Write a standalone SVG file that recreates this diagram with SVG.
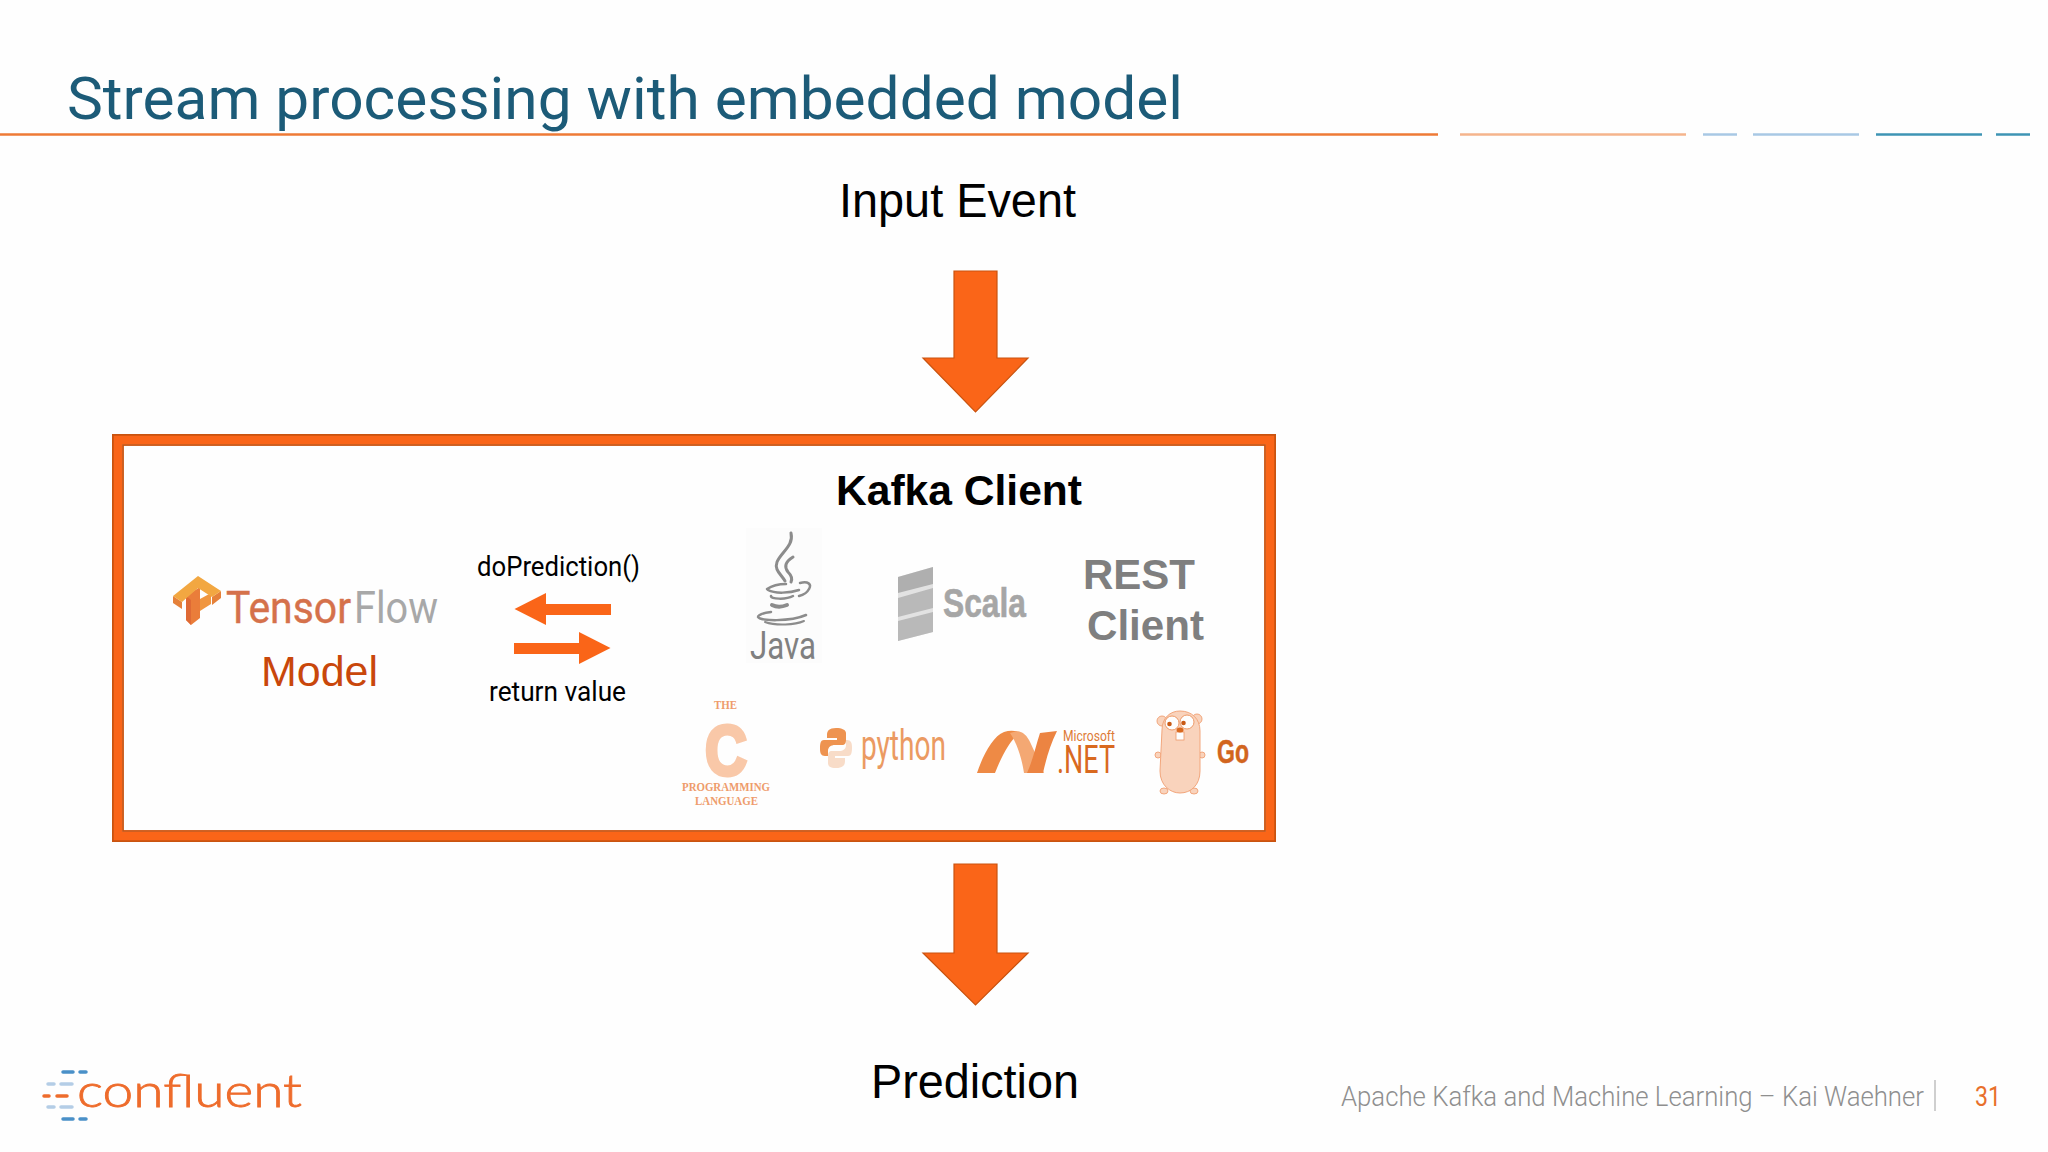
<svg xmlns="http://www.w3.org/2000/svg" width="2048" height="1152" viewBox="0 0 2048 1152">
<style>
.ar{font-family:"Liberation Sans",Arial,sans-serif}
.ro{font-family:Roboto,"Liberation Sans",sans-serif}
.arrow{fill:#FA6518;stroke:#C9530F;stroke-width:1.2}
.small{fill:#FA6518}
.big{font-size:48px;fill:#000}
.gb{font-size:42px;font-weight:700;fill:#7f7f7f}
.cs{font-family:"Liberation Serif",serif;font-weight:700;fill:#EE9C6C}
.dn{stroke-linecap:round;stroke-width:3.5;fill:none}
.jv{fill:none;stroke:#8c8c8c;stroke-linecap:round}
</style>
<rect width="2048" height="1152" fill="#FEFEFE"/>
<g id="header">
<text class="ro" x="67" y="119" font-size="60" fill="#1C5B78" textLength="1116" lengthAdjust="spacingAndGlyphs">Stream processing with embedded model</text>
<g stroke-width="2.5" fill="none">
<line x1="0" y1="134.500" x2="1438" y2="134.500" stroke="#EE7A36"/>
<line x1="1460" y1="134.500" x2="1686" y2="134.500" stroke="#F5B48C"/>
<line x1="1703" y1="134.500" x2="1737" y2="134.500" stroke="#A8C8E4"/>
<line x1="1753" y1="134.500" x2="1859" y2="134.500" stroke="#A8C8E4"/>
<line x1="1876" y1="134.500" x2="1982" y2="134.500" stroke="#3E94B4"/>
<line x1="1996" y1="134.500" x2="2030" y2="134.500" stroke="#3E94B4"/>
</g>
</g>
<g id="input-event"><text class="ar big" x="839" y="217" textLength="237" lengthAdjust="spacingAndGlyphs">Input Event</text></g>
<g id="prediction"><text class="ar big" x="871" y="1098" textLength="208" lengthAdjust="spacingAndGlyphs">Prediction</text></g>
<g id="kafka-box">
<rect x="113" y="435" width="1162" height="406" fill="#FEFEFE" stroke="#C9530F" stroke-width="2"/>
<rect x="118" y="440" width="1152" height="396" fill="none" stroke="#FA6518" stroke-width="8.500"/>
<rect x="123" y="445" width="1142" height="386" fill="none" stroke="#C9530F" stroke-width="1.800"/>
</g>
<g id="connectors">
<polygon class="arrow" points="954,271 997,271 997,358 1028,358 975.500,412 923,358 954,358"/>
<polygon class="arrow" points="954,864 997,864 997,953 1028,953 975.500,1005 923,953 954,953"/>
<polygon class="small" points="611,604 546,604 546,593 514.500,609 546,625 546,615 611,615"/>
<polygon class="small" points="514,643 579,643 579,632 610.500,648 579,664 579,654 514,654"/>
</g>
<g id="tensorflow-model">
<polygon points="186,596 200,587 200,618 191,625 186,620" fill="#EA7D3A"/>
<polygon points="186,596 191,600 191,625 186,620" fill="#DF6A35"/>
<polygon points="200,599 211,593 211,604 200,611" fill="#F0963F"/>
<polygon points="173,603 182,609 182,602 173,596" fill="#E5813A"/>
<polygon points="212,605 221,598 221,591 212,597" fill="#E5813A"/>
<polygon points="173,596 198,576 221,591 212,597 198,588 182,602" fill="#F2A741"/>
<text class="ro" x="226" y="623" font-size="45" font-weight="400" fill="#D5714B" stroke="#D5714B" stroke-width=".4" textLength="125" lengthAdjust="spacingAndGlyphs">Tensor</text>
<text class="ro" x="354" y="623" font-size="45" font-weight="400" fill="#A8A8A8" textLength="84" lengthAdjust="spacingAndGlyphs">Flow</text>
<text class="ar" x="261" y="686" font-size="42" fill="#C9470B" textLength="117" lengthAdjust="spacingAndGlyphs">Model</text>
</g>
<g id="do-prediction"><text class="ro" x="477" y="576" font-size="27" fill="#000" textLength="163" lengthAdjust="spacingAndGlyphs">doPrediction()</text></g>
<g id="return-value"><text class="ro" x="489" y="701" font-size="27" fill="#000" textLength="137" lengthAdjust="spacingAndGlyphs">return value</text></g>
<g id="kafka-client"><text class="ar" x="836" y="505" font-size="43" font-weight="700" fill="#000" textLength="246" lengthAdjust="spacingAndGlyphs">Kafka Client</text></g>
<g id="java">
<rect x="746" y="528" width="76" height="135" fill="#FCFCFC"/>
<path class="jv" stroke-width="3" d="M791 533C794 546 781 552 777 562C774 570 781 574 785 581"/>
<path class="jv" stroke-width="3" d="M793 557C785 562 784 567 788 572C791 575 793 578 791 582"/>
<path class="jv" stroke-width="2.500" d="M767 589C773 585 782 584 786 584M768 590C775 594 790 593 799 590M800 583C808 581 812 584 809 589C807 593 803 595 799 596"/>
<path class="jv" stroke-width="2.500" d="M771 596C770 599 786 600 793 596"/>
<path class="jv" stroke-width="4" d="M772 605C776 607 782 607 787 605"/>
<path class="jv" stroke-width="2.500" d="M771 612C763 613 758 615 758 617C760 621 790 622 806 615"/>
<path class="jv" stroke-width="2" d="M765 622C776 626 795 625 804 621"/>
<text class="ro" x="750" y="659" font-size="39" font-weight="400" fill="#808080" textLength="66" lengthAdjust="spacingAndGlyphs">Java</text>
</g>
<g id="scala">
<polygon points="898,577 933,567 933,632 898,641" fill="#E2E2E2"/>
<polygon points="898,577 933,567 933,584 898,593" fill="#AFAFAF"/>
<polygon points="898,598 933,588 933,608 898,617" fill="#B9B9B9"/>
<polygon points="898,621 933,612 933,632 898,641" fill="#B9B9B9"/>
<text class="ar" x="943" y="617" font-size="40" font-weight="700" fill="#A6A6A6" stroke="#A6A6A6" stroke-width=".6" textLength="83" lengthAdjust="spacingAndGlyphs">Scala</text>
</g>
<g id="rest-client">
<text class="ar gb" x="1083" y="589" textLength="112" lengthAdjust="spacingAndGlyphs">REST</text>
<text class="ar gb" x="1087" y="640" textLength="117" lengthAdjust="spacingAndGlyphs">Client</text>
</g>
<g id="c-lang">
<text class="cs" x="714" y="709" font-size="13" textLength="23" lengthAdjust="spacingAndGlyphs">THE</text>
<text class="ar" x="705" y="775" font-size="71" font-weight="700" fill="#F9C8A8" stroke="#F9C8A8" stroke-width="4" textLength="42" lengthAdjust="spacingAndGlyphs">C</text>
<text class="cs" x="682" y="791" font-size="12.500" textLength="88" lengthAdjust="spacingAndGlyphs">PROGRAMMING</text>
<text class="cs" x="695" y="805" font-size="12.500" textLength="63" lengthAdjust="spacingAndGlyphs">LANGUAGE</text>
</g>
<g id="python">
<path d="M836 728C829 728 827 731 827 735V738H837V740H824C820 740 820 745 820 749C820 753 821 756 825 756H828V751C828 747 831 745 835 745H842C845 745 846 743 846 740V733C846 730 842 728 836 728Z" fill="#EE9350"/>
<path d="M836 768C843 768 845 765 845 761V758H835V756H848C852 756 852 751 852 747C852 743 851 740 847 740H846V745C846 749 843 751 839 751H832C829 751 828 753 828 756V763C828 766 830 768 836 768Z" fill="#F8DCC8"/>
<text class="ro" x="861" y="760" font-size="42" font-weight="400" fill="#EB9A62" textLength="85" lengthAdjust="spacingAndGlyphs">python</text>
</g>
<g id="dotnet">
<path d="M977 773C983 755 993 736 1004 732C1010 730 1016 731 1021 732C1011 738 1002 755 995 773Z" fill="#EE8A45"/>
<path d="M1010 733C1018 730 1024 731 1029 740C1033 748 1040 763 1044 773H1024C1022 760 1018 745 1010 733Z" fill="#F4A873"/>
<path d="M1027 773C1033 760 1036 745 1040 733L1057 731C1050 745 1046 760 1043 773Z" fill="#EC8442"/>
<text class="ro" x="1063" y="741" font-size="14" font-weight="400" fill="#DD7A36" textLength="52" lengthAdjust="spacingAndGlyphs">Microsoft</text>
<text class="ro" x="1057" y="773" font-size="38" fill="#D9691F" textLength="58" lengthAdjust="spacingAndGlyphs">.NET</text>
</g>
<g id="go">
<g fill="#F9D3BC" stroke="#F2A67C" stroke-width="1">
<circle cx="1162" cy="721" r="5"/><circle cx="1197" cy="719" r="5"/>
<ellipse cx="1158" cy="755" rx="3" ry="3"/><ellipse cx="1202" cy="755" rx="3" ry="3"/>
<ellipse cx="1164" cy="791" rx="4" ry="3"/><ellipse cx="1194" cy="791" rx="4" ry="3"/>
<path d="M1162 730C1162 718 1170 711 1180 711C1192 711 1200 719 1200 731V771C1200 785 1191 793 1180 793C1170 793 1160 785 1160 771Z"/>
</g>
<circle cx="1172" cy="723" r="7" fill="#FEFEFE" stroke="#EE9A68" stroke-width="1"/>
<circle cx="1187" cy="722" r="7" fill="#FEFEFE" stroke="#EE9A68" stroke-width="1"/>
<circle cx="1169.500" cy="724" r="2.300" fill="#C85A16"/><circle cx="1183.500" cy="723" r="2.300" fill="#C85A16"/>
<rect x="1176" y="732" width="8" height="8" fill="#FEFEFE" stroke="#EE9A68" stroke-width=".8"/>
<ellipse cx="1180" cy="730" rx="3.500" ry="2.500" fill="#D9691F"/>
<text class="ar" x="1217" y="763" font-size="34" font-weight="700" fill="#D2651E" stroke="#D2651E" stroke-width=".5" textLength="32" lengthAdjust="spacingAndGlyphs">Go</text>
</g>
<g id="confluent-logo">
<g class="dn">
<path stroke="#4A90C8" d="M63 1072H73M80 1072H86M63 1119H73M80 1119H86"/>
<path stroke="#B4CDE6" d="M48 1084H54M61 1084H72M48 1107H54M61 1107H72"/>
<path stroke="#EE6C2C" d="M44 1096H49M57 1096H67"/>
</g>
<text x="77" y="1107" font-family="Lato,sans-serif" font-size="45" font-weight="300" fill="#EE6C2C" stroke="#EE6C2C" stroke-width=".8" textLength="225" lengthAdjust="spacingAndGlyphs">confluent</text>
</g>
<g id="footer">
<text class="ro" x="1341" y="1106" font-size="27" font-weight="300" fill="#8f8f8f" textLength="583" lengthAdjust="spacingAndGlyphs">Apache Kafka and Machine Learning – Kai Waehner</text>
<line x1="1935" y1="1080" x2="1935" y2="1111" stroke="#A0A0A0" stroke-width="1"/>
<text class="ro" x="1975" y="1106" font-size="28" fill="#E8702C" textLength="26" lengthAdjust="spacingAndGlyphs">31</text>
</g>
</svg>
